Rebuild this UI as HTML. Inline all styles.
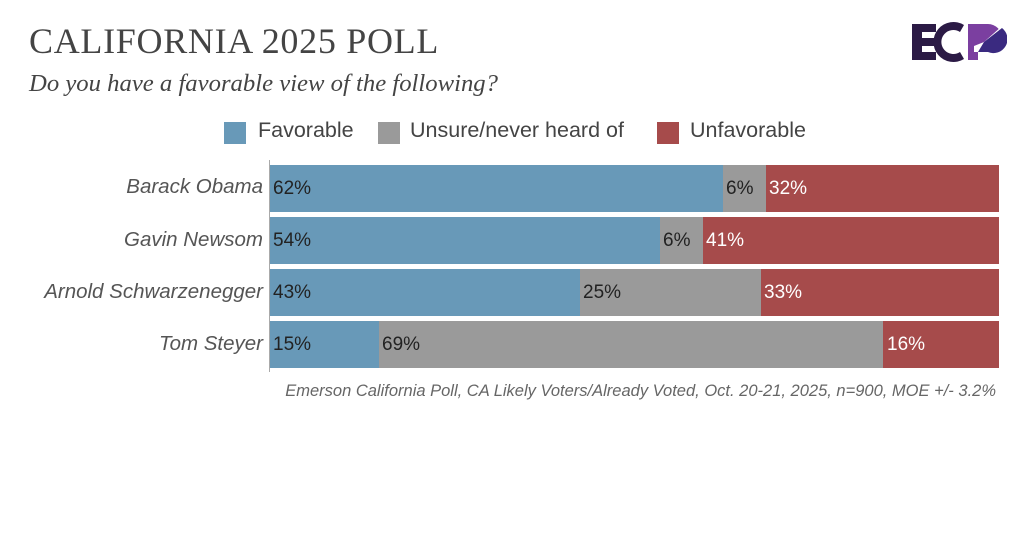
<!DOCTYPE html>
<html><head><style>
body{margin:0;width:1024px;height:558px;background:#fff;position:relative;overflow:hidden;font-family:"Liberation Sans",sans-serif}
.a{position:absolute}
.t{left:29px;top:20px;font-family:"Liberation Serif",serif;font-size:36px;color:#444;letter-spacing:0.7px}
.s{left:29px;top:70px;font-family:"Liberation Serif",serif;font-style:italic;font-size:24.7px;color:#444}
.lg{font-size:21.5px;color:#444;top:118px}
.sq{width:22px;height:22px;top:122px}
.lab{font-style:italic;font-size:20.5px;color:#555;right:761px;text-align:right;white-space:nowrap}
.b{height:47px}
.v{font-size:19px;line-height:47px;color:#222;padding-left:3px;box-sizing:border-box;white-space:nowrap}
.w{color:#fff}
.fav{background:#6899b8}.uns{background:#9a9a9a}.unf{background:#a64b4b}
</style></head><body>
<div class="a t">CALIFORNIA 2025 POLL</div>
<div class="a s">Do you have a favorable view of the following?</div>
<svg class="a" style="left:912px;top:20px" width="95" height="44" viewBox="0 0 95 44">
<path d="M0 4h24v8H10v6h13v8H10v6h14v8H0z" fill="#2b1a45"/>
<path d="M48 12a12 12 0 1 0 0 20l4 7a20 20 0 1 1 0-34z" fill="#2b1a45"/>
<path d="M56 4h20a14 14 0 0 1 0 28h-10v8h-10z" fill="#7b3fa0"/>
<path d="M62 26l10-4 18-16 2 10-20 16h-10z" fill="#fff"/>
<path d="M72 22l18-14a14 14 0 0 1-14 24h-10z" fill="#3a2a80"/>
</svg>
<div class="a sq fav" style="left:224px"></div><div class="a lg" style="left:258px">Favorable</div>
<div class="a sq uns" style="left:378px"></div><div class="a lg" style="left:410px">Unsure/never heard of</div>
<div class="a sq unf" style="left:657px"></div><div class="a lg" style="left:690px">Unfavorable</div>
<div class="a" style="left:269px;top:160px;width:1px;height:212px;background:#aaa"></div>

<div class="a lab" style="top:175px">Barack Obama</div>
<div class="a b v fav" style="left:270px;top:165px;width:453px">62%</div>
<div class="a b v uns" style="left:723px;top:165px;width:43px">6%</div>
<div class="a b v unf w" style="left:766px;top:165px;width:233px">32%</div>

<div class="a lab" style="top:228px">Gavin Newsom</div>
<div class="a b v fav" style="left:270px;top:217px;width:390px">54%</div>
<div class="a b v uns" style="left:660px;top:217px;width:43px">6%</div>
<div class="a b v unf w" style="left:703px;top:217px;width:296px">41%</div>

<div class="a lab" style="top:280px">Arnold Schwarzenegger</div>
<div class="a b v fav" style="left:270px;top:269px;width:310px">43%</div>
<div class="a b v uns" style="left:580px;top:269px;width:181px">25%</div>
<div class="a b v unf w" style="left:761px;top:269px;width:238px">33%</div>

<div class="a lab" style="top:332px">Tom Steyer</div>
<div class="a b v fav" style="left:270px;top:321px;width:109px">15%</div>
<div class="a b v uns" style="left:379px;top:321px;width:504px">69%</div>
<div class="a b v unf w" style="left:883px;top:321px;width:116px;padding-left:4px">16%</div>

<div class="a" style="right:28px;top:382px;font-style:italic;font-size:16.5px;color:#666;white-space:nowrap">Emerson California Poll, CA Likely Voters/Already Voted, Oct. 20-21, 2025, n=900, MOE +/- 3.2%</div>
</body></html>
